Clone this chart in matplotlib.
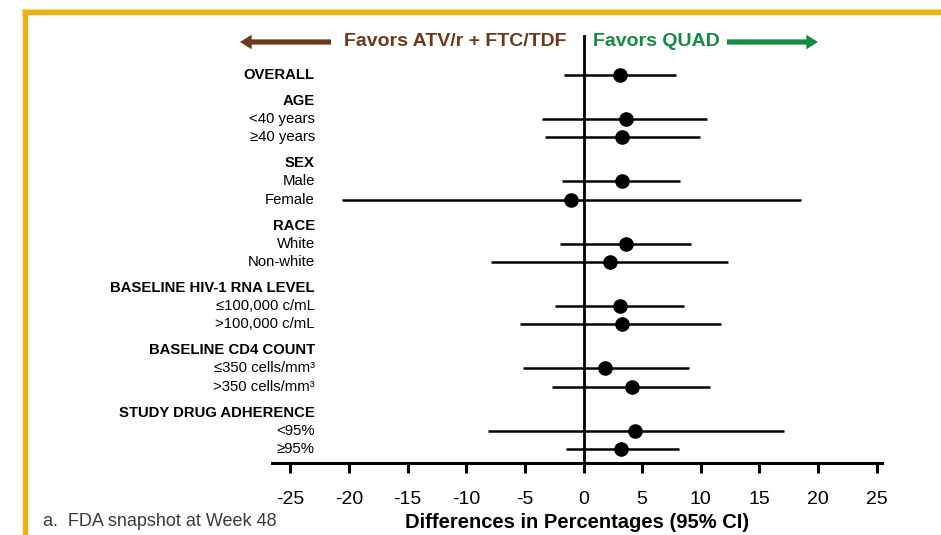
import matplotlib
matplotlib.use("Agg")
import matplotlib.pyplot as plt
import numpy as np
from matplotlib.lines import Line2D
from matplotlib.patches import FancyArrowPatch

# ---------------- data ----------------
labels = ["OVERALL",
          "AGE", "<40 years", "≥40 years",
          "SEX", "Male", "Female",
          "RACE", "White", "Non-white",
          "BASELINE HIV-1 RNA LEVEL", "≤100,000 c/mL", ">100,000 c/mL",
          "BASELINE CD4 COUNT", "≤350 cells/mm³", ">350 cells/mm³",
          "STUDY DRUG ADHERENCE", "<95%", "≥95%"]
is_header = [True,
             True, False, False,
             True, False, False,
             True, False, False,
             True, False, False,
             True, False, False,
             True, False, False]
has_value = [True,
             False, True, True,
             False, True, True,
             False, True, True,
             False, True, True,
             False, True, True,
             False, True, True]
estimate = [3.1, 3.6, 3.3, 3.3, -1.1, 3.6, 2.3, 3.1, 3.3, 1.8, 4.1, 4.4, 3.2]
ci_low = [-1.7, -3.5, -3.3, -1.8, -20.6, -2.0, -7.9, -2.4, -5.4, -5.2, -2.7, -8.1, -1.5]
ci_high = [7.9, 10.5, 9.9, 8.2, 18.5, 9.2, 12.3, 8.6, 11.7, 9.0, 10.8, 17.1, 8.1]
xticks = [-25, -20, -15, -10, -5, 0, 5, 10, 15, 20, 25]

# ---------------- layout ----------------
W, H = 941, 535
fig = plt.figure(figsize=(W / 100, H / 100), dpi=100)
fig.patch.set_facecolor("white")

SANS = ["Liberation Sans", "DejaVu Sans"]

# gold frame
gold = "#EDB111"
fig.add_artist(Line2D([24.5 / W, 24.5 / W], [0, 1 - 9 / H], transform=fig.transFigure,
                      color=gold, lw=3.8, solid_capstyle="butt"))
fig.add_artist(Line2D([22 / W, 1], [1 - 11.5 / H, 1 - 11.5 / H], transform=fig.transFigure,
                      color=gold, lw=3.8, solid_capstyle="butt"))
fig.add_artist(Line2D([22 / W, 1], [1 - 8.5 / H, 1 - 8.5 / H], transform=fig.transFigure,
                      color="#F5DA8A", lw=0.8, solid_capstyle="butt"))

ax_left, ax_right = 272, 882
ax_top, ax_bot = 35, 463
ax = fig.add_axes([ax_left / W, 1 - ax_bot / H, (ax_right - ax_left) / W, (ax_bot - ax_top) / H])

# row positions (row units; header rows get extra gap)
gap = 0.43
ypos = []
y = 0.0
for i, h in enumerate(is_header):
    if i > 0:
        y += 1 + (gap if h else 0)
    ypos.append(y)
ypos = np.array(ypos)
val_y = ypos[np.array(has_value)]

unit = 18.17
ax.set_ylim((ax_bot - 75) / unit, (ax_top - 75) / unit)
px_per = 11.73
ax.set_xlim((ax_left - 583.5) / px_per, (ax_right - 583.5) / px_per)

ax.axvline(0, color="black", lw=2.0, zorder=1)
est = np.array(estimate)
ax.hlines(val_y, ci_low, ci_high, color="black", lw=1.8, zorder=2)
ax.plot(est, val_y, "o", color="black", ms=9.5, zorder=3)

for sp in ["top", "right", "left"]:
    ax.spines[sp].set_visible(False)
ax.spines["bottom"].set_linewidth(2.2)
ax.set_yticks([])
ax.set_xticks(xticks)
ax.set_xticklabels([str(t) for t in xticks], family=SANS, fontsize=14)
ax.tick_params(axis="x", direction="out", length=7, width=2.2, pad=13)
ax.patch.set_alpha(0)

# row labels
for lab, yy, h in zip(labels, ypos, is_header):
    ax.text(-22.9, yy, lab, ha="right", va="center", fontsize=10.7,
            fontweight="bold" if h else "normal", family=SANS, clip_on=False)

# header with arrows
brown = "#6B3A1C"
green = "#148A45"
ytxt = 1 - 42 / H
fig.text(567 / W, ytxt, "Favors ATV/r + FTC/TDF", ha="right", va="center", color=brown,
         fontsize=14, fontweight="bold", family=SANS)
fig.text(593 / W, ytxt, "Favors QUAD", ha="left", va="center", color=green,
         fontsize=14, fontweight="bold", family=SANS)
astyle = "simple,head_length=0.6,head_width=0.75,tail_width=0.27"
fig.add_artist(FancyArrowPatch((331 / W, ytxt), (240 / W, ytxt), transform=fig.transFigure,
                               arrowstyle=astyle, mutation_scale=14, color=brown,
                               shrinkA=0, shrinkB=0, lw=0))
fig.add_artist(FancyArrowPatch((727 / W, ytxt), (818 / W, ytxt), transform=fig.transFigure,
                               arrowstyle=astyle, mutation_scale=14, color=green,
                               shrinkA=0, shrinkB=0, lw=0))

# x label and footnote
fig.text(577 / W, 1 - 522 / H, "Differences in Percentages (95% CI)", ha="center", va="center",
         fontsize=14.5, fontweight="bold", family=SANS)
fig.text(43 / W, 1 - 522 / H, "a.  FDA snapshot at Week 48", ha="left", va="center",
         fontsize=13, color="#3a3a3a", family=SANS)

fig.savefig("out.png", dpi=100)
